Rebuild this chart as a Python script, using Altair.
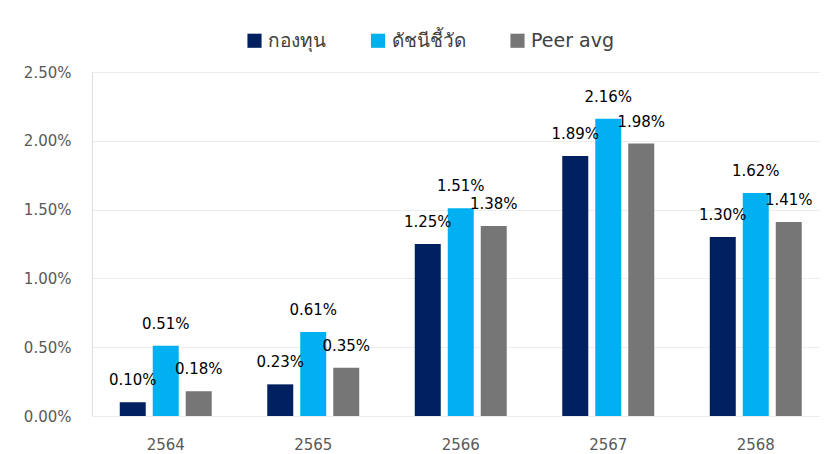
import altair as alt
import pandas as pd

years = ["2564", "2565", "2566", "2567", "2568"]
series = ["กองทุน", "ดัชนีชี้วัด", "Peer avg"]
fund = [0.10, 0.23, 1.25, 1.89, 1.30]
benchmark = [0.51, 0.61, 1.51, 2.16, 1.62]
peer = [0.18, 0.35, 1.38, 1.98, 1.41]
colors = ["#002060", "#00B0F0", "#767676"]

rows = []
for s, vals in zip(series, [fund, benchmark, peer]):
    for y, v in zip(years, vals):
        rows.append({"year": y, "series": s, "value": v / 100.0})
df = pd.DataFrame(rows)

FONT = "DejaVu Sans, Tahoma, Noto Sans, sans-serif"

base = alt.Chart(df).encode(
    x=alt.X("year:N", title=None, sort=years,
            scale=alt.Scale(paddingInner=0.329, paddingOuter=0.1644, range=[0, 737.5]),
            axis=alt.Axis(labelAngle=0, labelFontSize=15, labelColor="#595959",
                          labelFont=FONT, domain=False, ticks=False, labelPadding=21)),
    xOffset=alt.XOffset("series:N", sort=series,
                        scale=alt.Scale(paddingInner=0.212, paddingOuter=0.106)),
)

bars = base.mark_bar().encode(
    y=alt.Y("value:Q", title=None,
            scale=alt.Scale(domain=[0, 0.025], nice=False),
            axis=alt.Axis(format=".2%", values=[0, 0.005, 0.01, 0.015, 0.02, 0.025],
                          labelFontSize=15, labelColor="#595959", labelFont=FONT,
                          domain=False, ticks=False, labelPadding=21,
                          gridColor="#EDEDED", gridWidth=1)),
    color=alt.Color("series:N", sort=series,
                    scale=alt.Scale(domain=series, range=colors),
                    legend=alt.Legend(title=None, orient="none", direction="horizontal",
                                      legendX=153, legendY=-41, symbolType="square",
                                      symbolSize=200, symbolStrokeWidth=0,
                                      labelFontSize=19, labelColor="#404040",
                                      labelFont=FONT, columnPadding=42.5, labelOffset=4)),
)

labels = base.mark_text(dy=-22, fontSize=15, font=FONT, color="#000000",
                        baseline="middle").encode(
    y=alt.Y("value:Q"),
    text=alt.Text("value:Q", format=".2%"),
)

chart = alt.layer(bars, labels).properties(
    width=728, height=344,
    autosize=alt.AutoSizeParams(type="none"),
    padding={"left": 84, "top": 64, "right": 0, "bottom": 38},
).configure_view(stroke=None).configure(background="white")

chart.save("out.html", embed_options={"renderer": "svg", "actions": False})
